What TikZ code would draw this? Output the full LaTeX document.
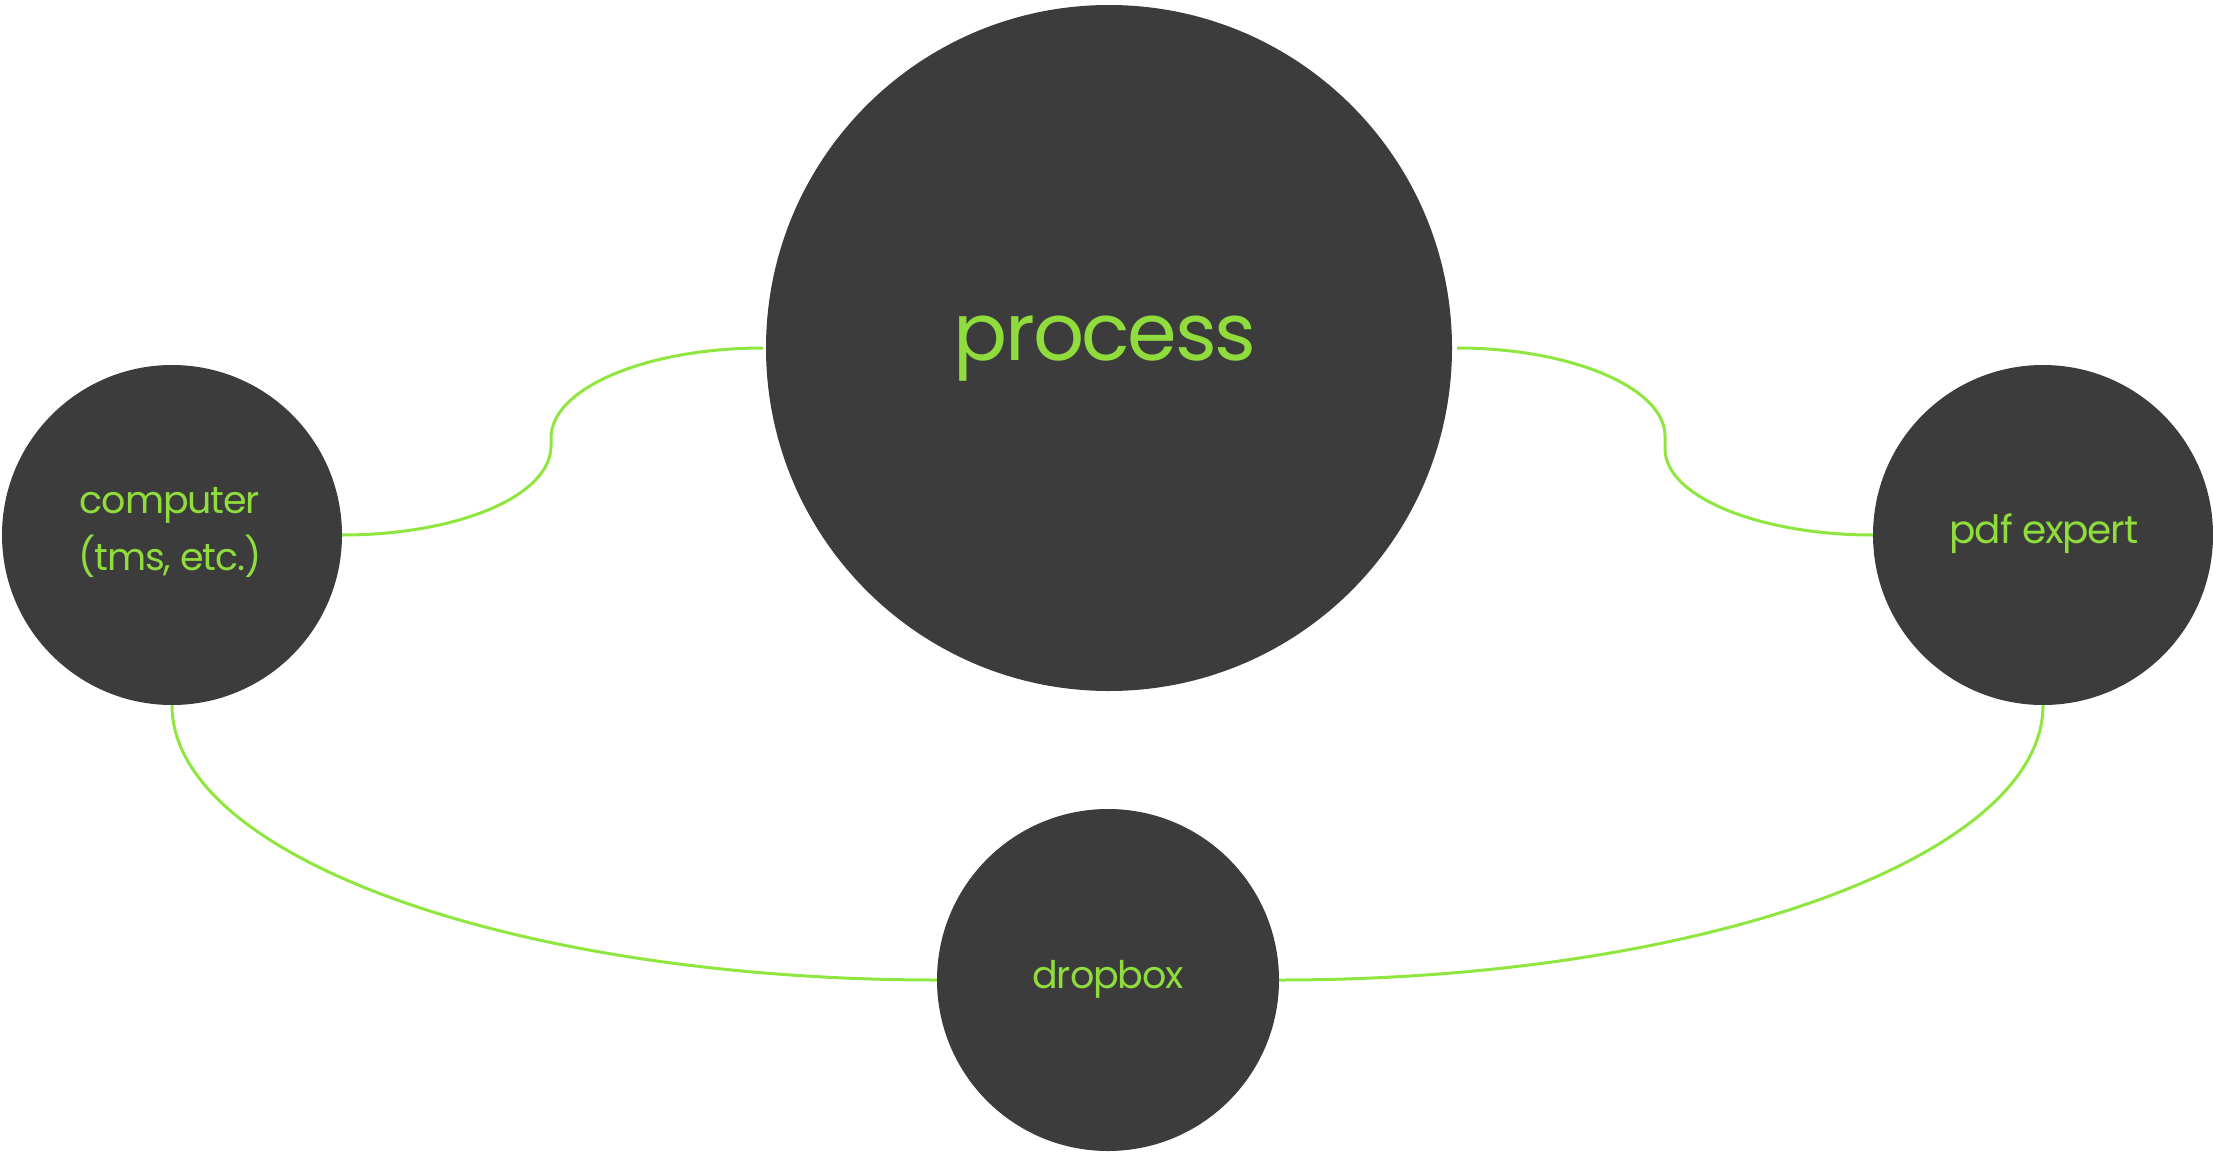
\documentclass[tikz,border=0pt]{standalone}
\usepackage{fontspec}
\setmainfont{Poppins}[LetterSpace=-3]
\definecolor{disc}{HTML}{3C3C3C}
\definecolor{lime}{HTML}{8EE63F}
\definecolor{limetext}{HTML}{8FDC3C}
\begin{document}
\begin{tikzpicture}[x=1pt,y=-1pt,
  disk/.style={circle,fill=disc,inner sep=0pt,minimum size=#1},
  lbl/.style={text=limetext,inner sep=0pt,anchor=base},
  link/.style={draw=lime,line width=3pt}]
\useasboundingbox (0,0) rectangle (2213,1153);
\node[disk=686pt] (process) at (1109,348) {};
\node[disk=340pt] (computer) at (172,535) {};
\node[disk=340pt] (pdf) at (2043,535) {};
\node[disk=342pt] (dropbox) at (1108,980) {};
\node[lbl,font=\fontsize{80}{80}\selectfont] (ptxt) at (1105,360) {process};
\node[lbl,font=\fontsize{38}{57}\selectfont,align=center] (ctxt) at (170,570) {computer\\(tms, etc.)};
\node[lbl,font=\fontsize{39}{40}\selectfont] (pdtxt) at (2044,543) {pdf expert};
\node[lbl,font=\fontsize{38}{40}\selectfont] (dtxt) at (1108,988) {dropbox};
\coordinate (lm1) at (551,446);
\coordinate (lm2) at (551,438);
\coordinate (rm1) at (1665,436);
\coordinate (rm2) at (1665,449);
\path[link] (computer.east) .. controls +(115,0) and +(0,50) .. (lm1) -- (lm2)
  .. controls +(0,-50) and +(-116,0) .. ([xshift=-3pt]process.west);
\path[link] ([xshift=5pt]process.east) .. controls +(114,0) and +(0,-48) .. (rm1) -- (rm2)
  .. controls +(0,47) and +(-115,0) .. (pdf.west);
\path[link] (computer.south) .. controls +(0,152) and +(-422,0) .. (dropbox.west);
\path[link] (pdf.south) .. controls +(0,152) and +(422,0) .. (dropbox.east);
\end{tikzpicture}
\end{document}
